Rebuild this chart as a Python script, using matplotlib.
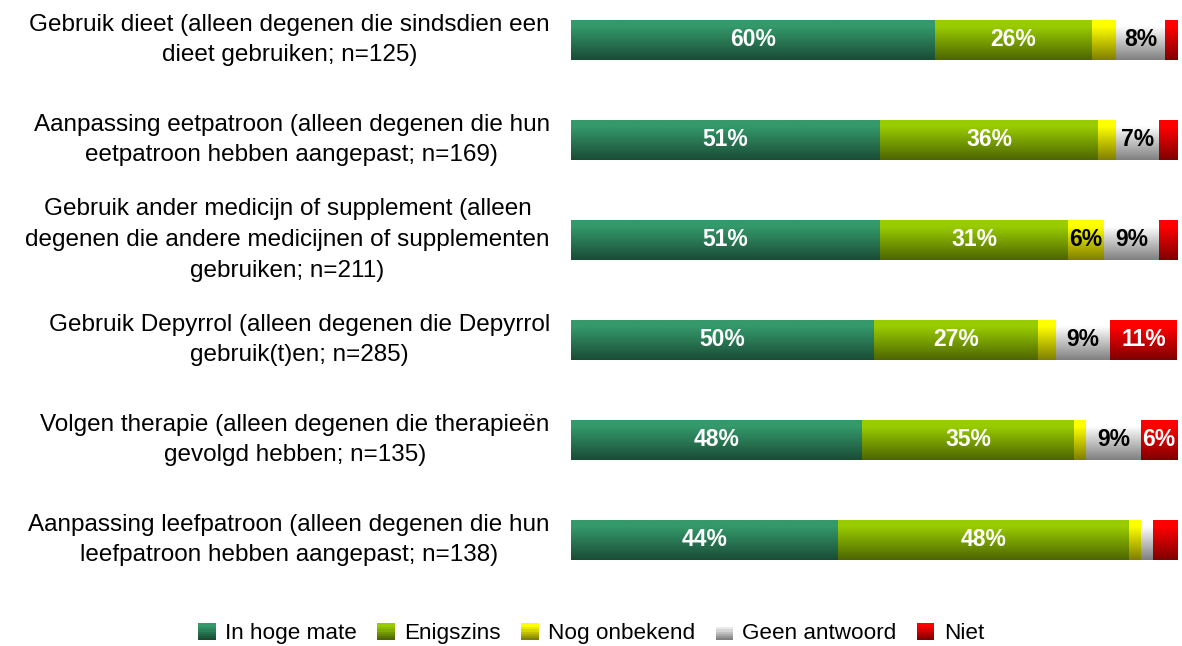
import numpy as np
import matplotlib
matplotlib.use("Agg")
import matplotlib.pyplot as plt
from matplotlib.patches import Rectangle
from matplotlib.legend_handler import HandlerBase
from matplotlib.colors import to_rgb

plt.rcParams['font.family'] = ['Liberation Sans', 'DejaVu Sans']

# data
categories = [
    "Gebruik dieet (alleen degenen die sindsdien een\ndieet gebruiken; n=125)",
    "Aanpassing eetpatroon (alleen degenen die hun\neetpatroon hebben aangepast; n=169)",
    "Gebruik ander medicijn of supplement (alleen\ndegenen die andere medicijnen of supplementen\ngebruiken; n=211)",
    "Gebruik Depyrrol (alleen degenen die Depyrrol\ngebruik(t)en; n=285)",
    "Volgen therapie (alleen degenen die therapieën\ngevolgd hebben; n=135)",
    "Aanpassing leefpatroon (alleen degenen die hun\nleefpatroon hebben aangepast; n=138)",
]
series = ["In hoge mate", "Enigszins", "Nog onbekend", "Geen antwoord", "Niet"]
hoge_mate = [60, 51, 51, 50, 48, 44]
enigszins = [26, 36, 31, 27, 35, 48]
onbekend = [4, 3, 6, 3, 2, 2]
geen_antw = [8, 7, 9, 9, 9, 2]
niet = [2, 3, 3, 11, 6, 4]
values = [hoge_mate, enigszins, onbekend, geen_antw, niet]

colors = ['#34996b', '#99cc00', '#ffff00', '#ffffff', '#ff0000']
text_colors = ['white', 'white', 'black', 'black', 'white']


def gradient(color, n=64):
    # light at the top, half brightness at the bottom
    c = np.array(to_rgb(color))
    t = np.linspace(0, 1, n)
    f = 1 - 0.5 * np.clip((t - 0.15) / 0.85, 0, 1)
    return (c[None, :] * f[:, None])[:, None, :]


fig = plt.figure(figsize=(11.82, 6.46), dpi=100)
ax = fig.add_axes([571 / 1182, 86 / 646, 606 / 1182, 540 / 646])

h = 0.4
for i in range(len(categories)):
    left = 0
    for s in range(len(series)):
        v = values[s][i]
        ax.imshow(gradient(colors[s]), extent=(left, left + v, i + h / 2, i - h / 2),
                  origin='upper', aspect='auto', interpolation='bilinear')
        if v >= 5:
            ax.text(left + v / 2, i, f"{v}%", ha='center', va='center',
                    color=text_colors[s], fontsize=16.5, fontweight='bold')
        left += v
    ax.text(-0.035, i, categories[i], transform=ax.get_yaxis_transform(),
            ha='right', va='center', multialignment='center',
            fontsize=17.5, linespacing=1.5)

ax.set_xlim(0, 100)
ax.set_ylim(len(categories) - 1 + 0.2, -0.2)
ax.axis('off')


class GradientHandler(HandlerBase):
    def create_artists(self, legend, orig_handle, xdescent, ydescent,
                       width, height, fontsize, trans):
        n = 8
        g = gradient(orig_handle.get_facecolor(), n)[:, 0, :]
        size = min(width, height)
        x0 = -xdescent + (width - size) / 2
        y0 = -ydescent + (height - size) / 2
        arts = []
        for k in range(n):
            r = Rectangle((x0, y0 + size * (n - 1 - k) / n), size, size / n,
                          facecolor=g[k], edgecolor='none', transform=trans)
            arts.append(r)
        return arts


handles = [Rectangle((0, 0), 1, 1, facecolor=c) for c in colors]
fig.legend(handles, series, loc='center', bbox_to_anchor=(0.5, 0.019), ncol=5,
           frameon=False, fontsize=16.2, handlelength=0.8, handleheight=0.8,
           handletextpad=0.4, columnspacing=0.9,
           handler_map={Rectangle: GradientHandler()})

fig.savefig("out.png", dpi=100)
